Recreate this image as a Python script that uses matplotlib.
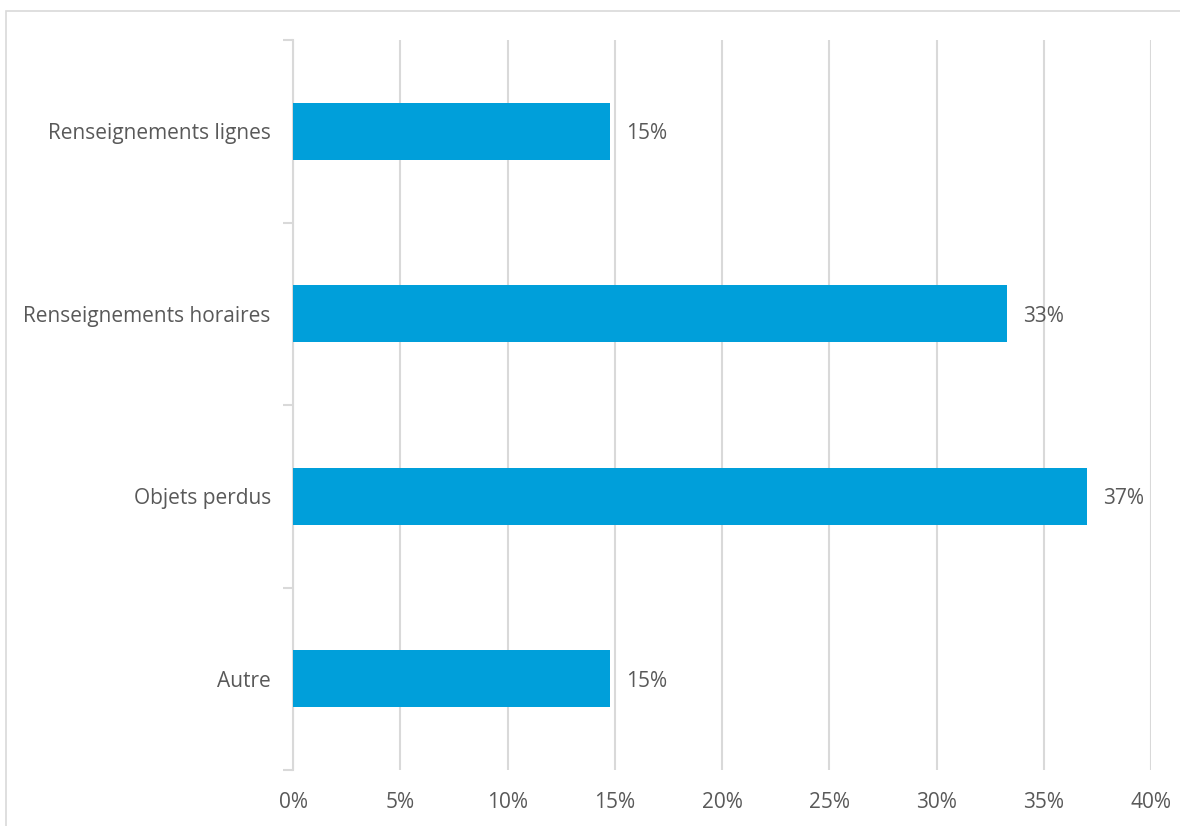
import matplotlib.pyplot as plt
from matplotlib.patches import Rectangle
from matplotlib.ticker import FuncFormatter, MultipleLocator

# Share of requests by subject (%)
categories = ["Renseignements lignes", "Renseignements horaires", "Objets perdus", "Autre"]
values = [14.8, 33.3, 37.0, 14.8]
labels = ["15%", "33%", "37%", "15%"]

bar_color = "#009FDA"
text_color = "#595959"
grid_color = "#D9D9D9"

plt.rcParams["font.family"] = ["Open Sans", "DejaVu Sans"]

fig = plt.figure(figsize=(11.8, 8.26), dpi=100)

# light frame around the chart area
fig.patches.append(Rectangle((6 / 1180, -0.01), 1.0, 1.01 - 11 / 826,
                             transform=fig.transFigure, fill=False,
                             edgecolor=grid_color, linewidth=1.2))

ax = fig.add_axes([293 / 1180, 56 / 826, 858 / 1180, 730 / 826])

y = list(range(len(categories)))
ax.barh(y, values, height=0.31, color=bar_color, zorder=3)

for yi, v, lab in zip(y, values, labels):
    ax.text(v + 0.75, yi + 0.015, lab, va="center", ha="left", fontsize=15, color=text_color)

ax.set_xlim(0, 40)
ax.set_ylim(len(categories) - 0.5, -0.5)
ax.xaxis.set_major_locator(MultipleLocator(5))
ax.xaxis.set_major_formatter(FuncFormatter(lambda x, _: f"{x:.0f}%"))

ax.set_yticks(y)
ax.set_yticklabels(categories)
ax.set_yticks([i - 0.5 for i in range(len(categories) + 1)], minor=True)

ax.grid(axis="x", color=grid_color, linewidth=1.5, zorder=0)
for side in ["top", "right", "bottom"]:
    ax.spines[side].set_visible(False)
ax.spines["left"].set_color(grid_color)
ax.spines["left"].set_linewidth(1.5)

ax.tick_params(axis="x", length=0, pad=16, labelsize=15, labelcolor=text_color)
ax.tick_params(axis="y", which="major", length=0, pad=16, labelsize=15, labelcolor=text_color)
ax.tick_params(axis="y", which="minor", length=7, width=1.5, color=grid_color)

fig.savefig("out.png", dpi=100)
